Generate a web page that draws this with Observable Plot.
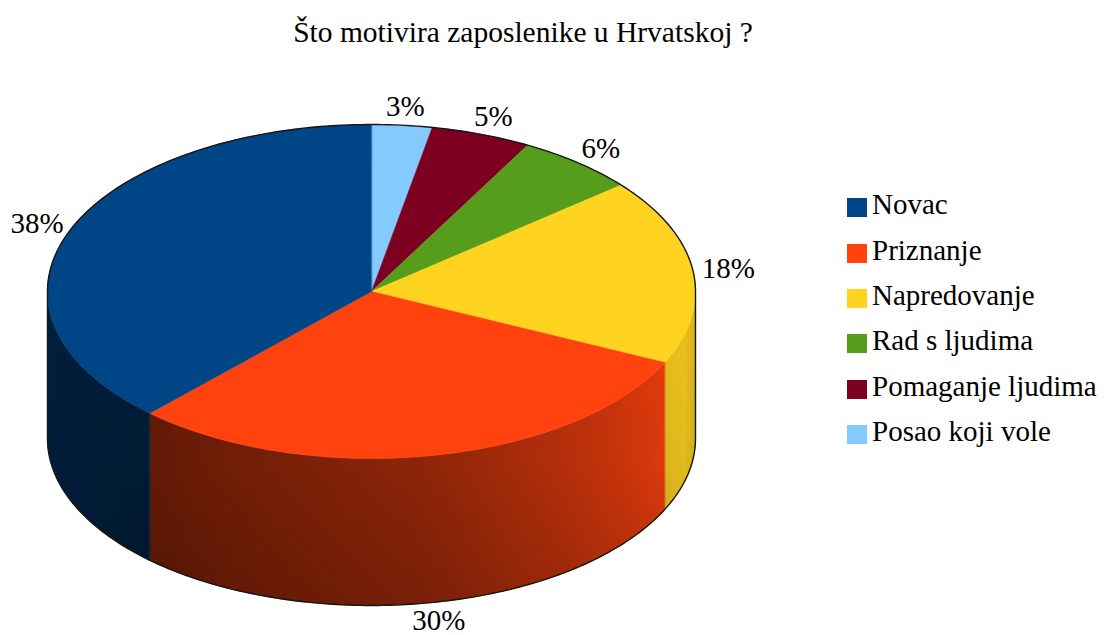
<!DOCTYPE html>
<html><head><meta charset="utf-8">
<script src="https://cdn.jsdelivr.net/npm/d3@7"></script>
<script src="https://cdn.jsdelivr.net/npm/@observablehq/plot@0.6"></script>
<style>
body{margin:0;background:#fff;font-family:"Liberation Serif","Tinos","Times New Roman","Liberation Sans",Arial,sans-serif;}
#wrap{position:relative;width:1107px;height:635px;overflow:hidden;background:#fff;}
#title{position:absolute;left:0;top:18px;width:1046px;text-align:center;font-size:29.5px;line-height:29px;color:#000;white-space:nowrap;}
#chart{position:absolute;left:0;top:0;}
#legend{position:absolute;left:847px;top:182px;}
.item{display:flex;align-items:center;height:45.4px;font-size:29px;color:#000;white-space:nowrap;}
.sw{width:20px;height:19px;margin-right:5px;margin-top:6px;flex:none;}
</style></head><body>
<div id="wrap"><div id="chart"></div><div id="title">Što motivira zaposlenike u Hrvatskoj ?</div><div id="legend"></div></div>
<script>
const categories = ["Novac","Priznanje","Napredovanje","Rad s ljudima","Pomaganje ljudima","Posao koji vole"];
const values = [38,30,18,6,5,3];
const labels = ["38%","30%","18%","6%","5%","3%"];
const colors = ["#004586","#ff420e","#ffd320","#579d1c","#7e0021","#83caff"];

const FONT = "'Liberation Serif','Tinos','Times New Roman','Liberation Sans',Arial,sans-serif";
const DEPTH = 0.88;       // side height in ellipse-radius units
const LABEL_R = 1.11;
const total = d3.sum(values);
const order = d3.range(categories.length).reverse(); // clockwise from 12 o'clock
let acc = 0;
const slices = order.map(i => {
  const a0 = acc / total * 2 * Math.PI; acc += values[i];
  const a1 = acc / total * 2 * Math.PI;
  return {i, a0, a1, mid: (a0 + a1) / 2};
});

// top faces
const topPts = [];
slices.forEach(s => {
  const id = "top" + s.i;
  topPts.push({id, u: 0, v: 0, color: colors[s.i]});
  const n = Math.max(2, Math.ceil((s.a1 - s.a0) / (Math.PI / 180)));
  for (let k = 0; k <= n; k++) {
    const a = s.a0 + (s.a1 - s.a0) * k / n;
    topPts.push({id, u: Math.sin(a), v: Math.cos(a), color: colors[s.i]});
  }
});

// side lighting by angle (degrees clockwise from 12 o'clock)
function shade(deg) {
  const pts = [[90,0.80],[105,0.92],[115,0.90],[170,0.58],[223,0.40],[270,0.46]];
  if (deg <= pts[0][0]) return pts[0][1];
  for (let k = 1; k < pts.length; k++) {
    if (deg <= pts[k][0]) {
      const [d0,b0] = pts[k-1], [d1,b1] = pts[k];
      return b0 + (b1 - b0) * (deg - d0) / (d1 - d0);
    }
  }
  return pts[pts.length-1][1];
}

// side faces (front half only)
const sidePts = [];
const bandPts = [];
slices.forEach(s => {
  const lo = Math.max(s.a0, Math.PI / 2), hi = Math.min(s.a1, 3 * Math.PI / 2);
  if (hi <= lo) return;
  const n = Math.max(2, Math.ceil((hi - lo) / (Math.PI / 180)));
  const id = "side" + s.i, fill = `url(#grad${s.i})`;
  for (let k = 0; k <= n; k++) { const a = lo + (hi - lo) * k / n; sidePts.push({id, u: Math.sin(a), v: Math.cos(a), fill}); }
  for (let k = n; k >= 0; k--) { const a = lo + (hi - lo) * k / n; sidePts.push({id, u: Math.sin(a), v: Math.cos(a) - DEPTH, fill}); }
});
for (let k = 0; k <= 180; k++) { const a = Math.PI/2 + Math.PI * k / 180; bandPts.push({u: Math.sin(a), v: Math.cos(a)}); }
for (let k = 180; k >= 0; k--) { const a = Math.PI/2 + Math.PI * k / 180; bandPts.push({u: Math.sin(a), v: Math.cos(a) - DEPTH}); }

// silhouette
const outline = [];
for (let k = 0; k <= 180; k++) { const a = -Math.PI/2 + Math.PI * k / 180; outline.push({u: Math.sin(a), v: Math.cos(a)}); }
for (let k = 0; k <= 180; k++) { const a = Math.PI/2 + Math.PI * k / 180; outline.push({u: Math.sin(a), v: Math.cos(a) - DEPTH}); }

// labels
const labelData = slices.map(s => ({
  text: labels[s.i],
  u: LABEL_R * Math.sin(s.mid),
  v: LABEL_R * Math.cos(s.mid) - (Math.cos(s.mid) < 0 ? DEPTH : 0)
}));

const chart = Plot.plot({
  width: 800, height: 635,
  margin: 0,
  style: {background: "transparent", overflow: "visible"},
  x: {domain: [-1, 1], range: [47, 695], axis: null},
  y: {domain: [1, -1], range: [124, 458], axis: null},
  color: {type: "identity"},
  marks: [
    Plot.line(sidePts, {x: "u", y: "v", z: "id", fill: "fill", stroke: "fill", strokeWidth: 0.6, curve: "linear-closed"}),
    Plot.line(bandPts, {x: "u", y: "v", fill: "url(#vshade)", stroke: "none", curve: "linear-closed"}),
    Plot.line(topPts, {x: "u", y: "v", z: "id", fill: "color", stroke: "color", strokeWidth: 0.5, curve: "linear-closed"}),
    Plot.line(outline, {x: "u", y: "v", stroke: "#161616", strokeWidth: 1.4, curve: "linear-closed"}),
    Plot.text(labelData, {x: "u", y: "v", text: "text", fontSize: 29, fontFamily: FONT, fill: "#000", textAnchor: "middle", lineAnchor: "middle"})
  ]
});

// gradients for the shaded sides
const xs = chart.scale("x"), ys = chart.scale("y");
const svg = d3.select(chart);
const defs = svg.insert("defs", ":first-child");
slices.forEach(s => {
  const g = defs.append("linearGradient").attr("id", "grad" + s.i).attr("gradientUnits", "userSpaceOnUse")
    .attr("x1", xs.apply(-1)).attr("x2", xs.apply(1)).attr("y1", 0).attr("y2", 0);
  for (let deg = 270; deg >= 90; deg -= 3) {
    const r = deg * Math.PI / 180;
    g.append("stop").attr("offset", (Math.sin(r) + 1) / 2)
      .attr("stop-color", d3.interpolateRgb("#000", colors[s.i])(shade(deg)));
  }
});
const vg = defs.append("linearGradient").attr("id", "vshade").attr("gradientUnits", "userSpaceOnUse")
  .attr("x1", 0).attr("x2", 0).attr("y1", ys.apply(0)).attr("y2", ys.apply(-1 - DEPTH));
[[0, 0], [0.55, 0.04], [1, 0.18]].forEach(([o, a]) => vg.append("stop").attr("offset", o).attr("stop-color", "#000").attr("stop-opacity", a));

document.getElementById("chart").appendChild(chart);

const legend = d3.select("#legend");
categories.forEach((c, i) => {
  const it = legend.append("div").attr("class", "item");
  it.append("div").attr("class", "sw").style("background", colors[i]);
  it.append("span").text(c);
});
</script>
</body></html>
